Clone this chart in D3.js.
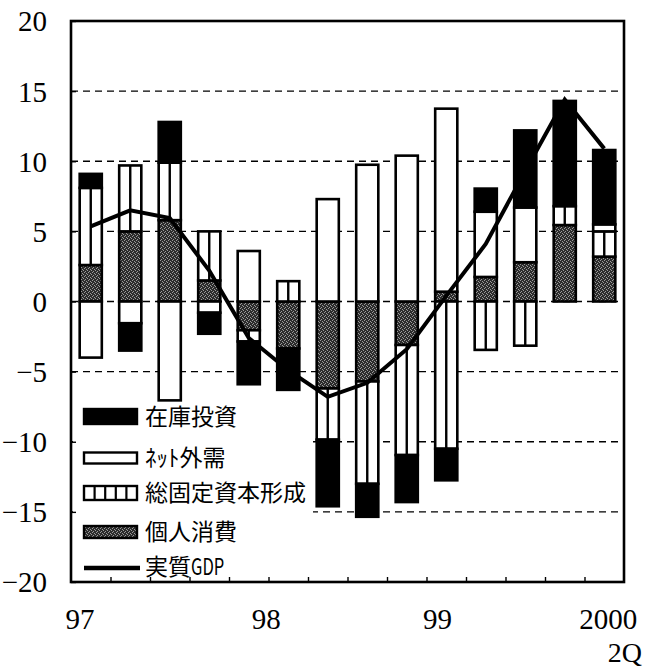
<!DOCTYPE html>
<html>
<head>
<meta charset="utf-8">
<script src="https://cdn.jsdelivr.net/npm/d3@7/dist/d3.min.js"></script>
<style>
  html, body { margin: 0; padding: 0; background: #fff; }
  svg { display: block; }
  .serif { font-family: "Liberation Serif", "Times New Roman", "DejaVu Serif", serif; }
  .jp { font-family: "Noto Sans CJK JP", sans-serif; }
</style>
</head>
<body>
<svg id="chart" width="645" height="668"></svg>
<script>
// ---- data ----
const quarters = ["97Q1","97Q2","97Q3","97Q4","98Q1","98Q2","98Q3","98Q4","99Q1","99Q2","99Q3","99Q4","2000Q1","2000Q2"];
const consumption = [2.6, 5.0, 5.8, 1.5, -2.05, -3.35, -6.2, -5.7, -3.1, 0.7, 1.75, 2.8, 5.45, 3.2];   // 個人消費
const investment  = [5.5, 4.7, 4.1, 3.5, -0.8, 1.45, -3.65, -7.3, -7.85, -10.5, -3.45, -3.15, 1.35, 1.8]; // 総固定資本形成
const netExports  = [-4.0, -1.55, -7.05, -0.8, 3.6, 0, 7.3, 9.75, 10.4, 13.05, 4.65, 3.9, 0, 0.5];   // ネット外需
const inventory   = [1.0, -1.95, 2.9, -1.5, -3.05, -2.95, -4.75, -2.35, -3.35, -2.25, 1.65, 5.5, 7.5, 5.3]; // 在庫投資
const gdp         = [5.35, 6.5, 5.95, 2.2, -2.6, -4.9, -6.8, -5.8, -3.4, 0.4, 4.1, 9.3, 14.4, 10.9];  // 実質GDP
const yTicks = [-20, -15, -10, -5, 0, 5, 10, 15, 20];
const xLabels = ["97", "98", "99", "2000"];
const xLabelAt = [-0.27, 4.44, 8.78, 13.1];   // in quarter-index units
const seriesKeys = ["consumption", "investment", "netExports", "inventory"];
const legendNames = {inventory: "在庫投資", netExports: "ﾈｯﾄ外需", investment: "総固定資本形成", consumption: "個人消費"};

// ---- layout ----
const L = 71, R = 624, T = 21, B = 582;
const svg = d3.select("#chart");

const defs = svg.append("defs");
const pat = defs.append("pattern").attr("id", "stipple").attr("patternUnits", "userSpaceOnUse")
  .attr("width", 4).attr("height", 4);
pat.append("rect").attr("width", 4).attr("height", 4).attr("fill", "#2c2c2c");
[[0,0],[2,1],[1,3],[3,2]].forEach(([px,py]) =>
  pat.append("rect").attr("x", px).attr("y", py).attr("width", 1).attr("height", 1).attr("fill", "#9a9a9a"));

const table = quarters.map((q, i) => ({
  q, consumption: consumption[i], investment: investment[i], netExports: netExports[i], inventory: inventory[i]
}));

const x = d3.scaleBand().domain(quarters).range([L, R]).paddingInner(0.44).paddingOuter(0.22);
const xq = d3.scaleLinear().domain([-0.5, quarters.length - 0.5]).range([L, R]);
const y = d3.scaleLinear().domain([-20, 20]).range([B, T]);

const stack = d3.stack().keys(seriesKeys).offset(d3.stackOffsetDiverging);
const layers = stack(table);

// gridlines
svg.append("g").selectAll("line").data(yTicks.filter(v => v > -20 && v < 20)).join("line")
  .attr("x1", L).attr("x2", R).attr("y1", d => y(d)).attr("y2", d => y(d))
  .attr("stroke", "#000").attr("stroke-width", 1.4).attr("stroke-dasharray", "7,5");

// legend background (covers gridlines)
svg.append("rect").attr("x", L + 2).attr("y", 396).attr("width", 240).attr("height", B - 397).attr("fill", "#fff");

// bars
const fills = {consumption: "url(#stipple)", investment: "#fff", netExports: "#fff", inventory: "#000"};
const barG = svg.append("g");
layers.forEach(layer => {
  const key = layer.key;
  layer.forEach((seg, i) => {
    if (seg[1] === seg[0]) return;
    const q = quarters[i];
    const x0 = x(q), w = x.bandwidth();
    const yTop = y(Math.max(seg[0], seg[1])), yBot = y(Math.min(seg[0], seg[1]));
    barG.append("rect").attr("x", x0).attr("y", yTop).attr("width", w).attr("height", yBot - yTop)
      .attr("fill", fills[key]).attr("stroke", "#000").attr("stroke-width", 2.6);
    if (key === "investment") {
      barG.append("line").attr("x1", x0 + w / 2).attr("x2", x0 + w / 2).attr("y1", yTop).attr("y2", yBot)
        .attr("stroke", "#000").attr("stroke-width", 2.4);
    }
  });
});

// GDP line
svg.append("path").datum(gdp)
  .attr("d", d3.line().x((d, i) => x(quarters[i]) + x.bandwidth() / 2).y(d => y(d)))
  .attr("fill", "none").attr("stroke", "#000").attr("stroke-width", 4).attr("stroke-linejoin", "miter");

// frame
svg.append("rect").attr("x", L).attr("y", T).attr("width", R - L).attr("height", B - T)
  .attr("fill", "none").attr("stroke", "#000").attr("stroke-width", 2.6);

// y axis
const yAxis = svg.append("g").attr("transform", `translate(${L},0)`)
  .call(d3.axisLeft(y).tickValues(yTicks).tickSizeInner(-5).tickSizeOuter(0).tickPadding(24).tickFormat(d3.format("d")));
yAxis.attr("font-family", null).attr("font-size", null);
yAxis.select(".domain").remove();
yAxis.selectAll(".tick line").attr("stroke-width", 1.4);
yAxis.selectAll("text").attr("class", "serif").style("font-size", "29px").attr("fill", "#000")
  .attr("dy", "0.34em");

// x axis (ticks at quarter boundaries)
const xAxis = svg.append("g").attr("transform", `translate(0,${B})`)
  .call(d3.axisBottom(xq).tickValues(d3.range(0.5, quarters.length - 1, 1)).tickSizeInner(-5).tickSizeOuter(0).tickFormat(""));
xAxis.select(".domain").remove();
xAxis.selectAll(".tick line").attr("stroke-width", 1.4);

svg.append("g").selectAll("text").data(xLabels).join("text")
  .attr("class", "serif")
  .attr("x", (d, i) => xq(xLabelAt[i])).attr("y", 629)
  .attr("text-anchor", "middle").style("font-size", "29px")
  .text(d => d);
svg.append("text").attr("class", "serif").attr("x", 642).attr("y", 662).attr("text-anchor", "end")
  .style("font-size", "28px").text("2Q");

// legend
const legendOrder = ["inventory", "netExports", "investment", "consumption"];
const lg = svg.append("g");
const ly = [416.5, 458, 493, 532];
const sh = {inventory: 15, netExports: 11, investment: 14, consumption: 12};
legendOrder.forEach((k, i) => {
  const h = sh[k];
  lg.append("rect").attr("x", 84).attr("y", ly[i] - h / 2).attr("width", 53).attr("height", h)
    .attr("fill", fills[k]).attr("stroke", "#000").attr("stroke-width", 2.4);
  if (k === "investment") {
    d3.range(1, 5).forEach(j => lg.append("line").attr("x1", 84 + j * 53 / 5).attr("x2", 84 + j * 53 / 5)
      .attr("y1", ly[i] - h / 2).attr("y2", ly[i] + h / 2).attr("stroke", "#000").attr("stroke-width", 2.2));
  }
  lg.append("text").attr("class", "jp").attr("x", 145).attr("y", ly[i]).attr("dy", "0.36em")
    .style("font-size", "23px").text(legendNames[k]);
});
lg.append("line").attr("x1", 84).attr("x2", 140).attr("y1", 568).attr("y2", 568)
  .attr("stroke", "#000").attr("stroke-width", 4.5);
lg.append("text").attr("class", "jp").attr("x", 145).attr("y", 567).attr("dy", "0.36em")
  .style("font-size", "23px").text("実質");
lg.append("text").attr("class", "jp").attr("transform", "translate(191,567) scale(0.72,1)").attr("dy", "0.36em")
  .style("font-size", "23px").text("GDP");
</script>
</body>
</html>
